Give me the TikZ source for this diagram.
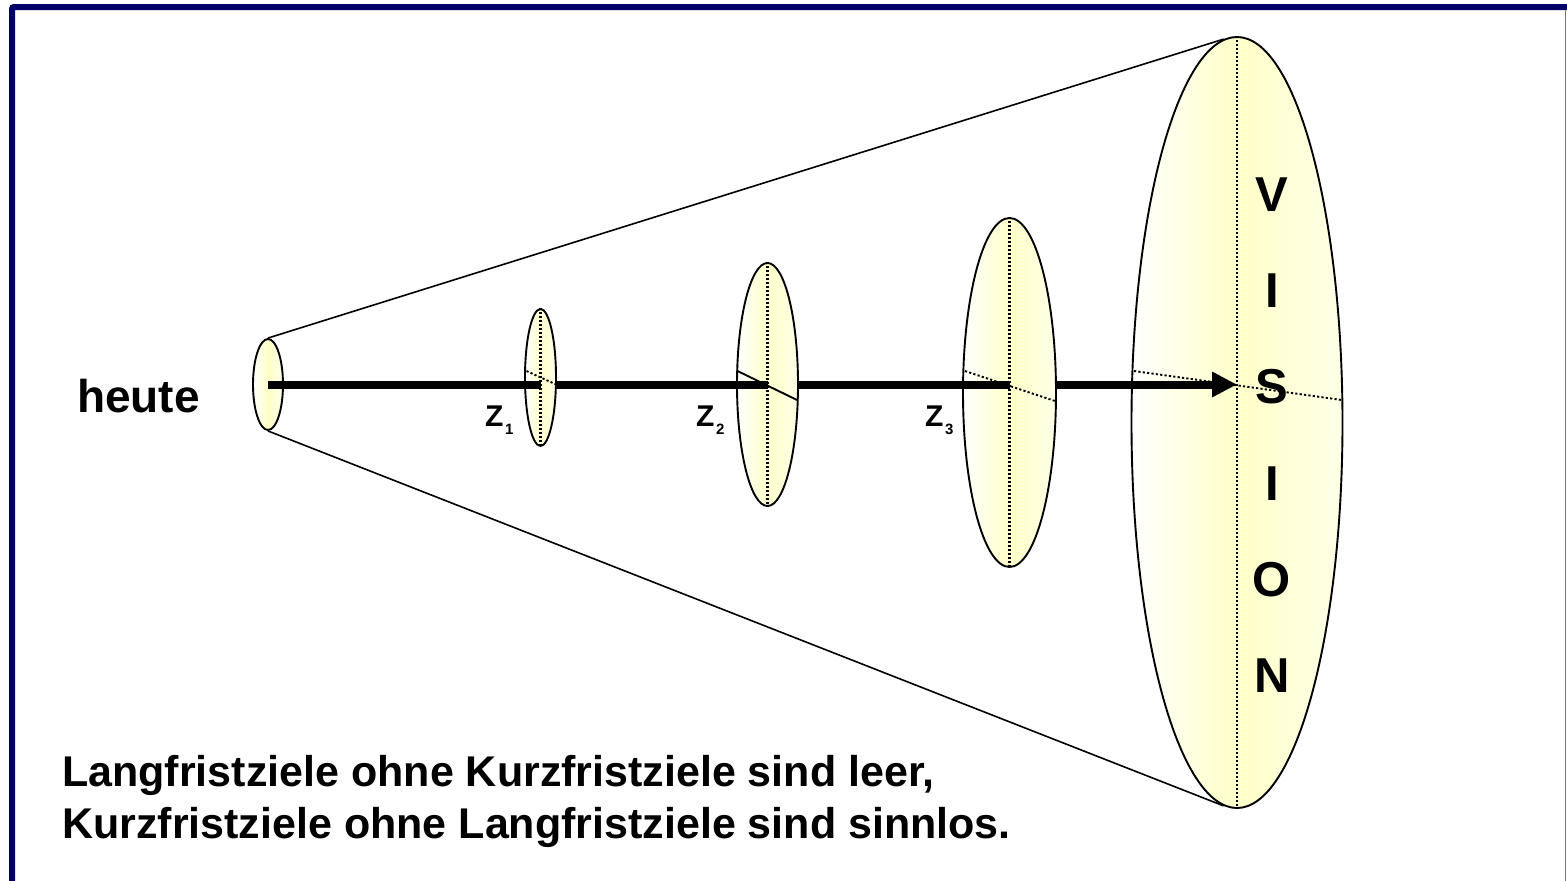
\documentclass[tikz,border=0pt]{standalone}
\usepackage{fontspec}
\setmainfont{Liberation Sans}
\usetikzlibrary{shapes.geometric,arrows.meta,calc}
\definecolor{framenavy}{RGB}{0,0,102}
\definecolor{framelav}{RGB}{110,110,175}
\definecolor{discyellow}{RGB}{255,255,200}
\definecolor{discpale}{RGB}{255,255,232}
\tikzset{
  disc/.style={ellipse, draw=black, line width=1.9pt, inner sep=0pt,
    left color=white, right color=discpale, middle color=discyellow},
  axisdot/.style={line width=2.2pt, dash pattern=on 2.2pt off 1.8pt},
  diagdot/.style={line width=1.9pt, dash pattern=on 2.2pt off 2.2pt},
  conel/.style={line width=1.6pt},
  path/.style={line width=8pt},
  bigtxt/.style={font=\fontsize{46}{55}\selectfont\bfseries, inner sep=0pt},
  visiontxt/.style={font=\fontsize{49}{58}\selectfont\bfseries, inner sep=0pt, anchor=base},
  ztxt/.style={inner sep=0pt, anchor=base west},
  bottomtxt/.style={font=\fontsize{43}{52}\selectfont\bfseries, inner sep=0pt, anchor=base west}
}
\newcommand{\zlabel}[1]{{\fontsize{30}{30}\selectfont\bfseries Z}\kern1.5pt{\fontsize{15}{15}\selectfont\bfseries\raisebox{-8pt}{#1}}}
\begin{document}
\begin{tikzpicture}[x=1pt,y=-1pt]
\useasboundingbox (0,0) rectangle (1567,881);
\fill[white] (0,0) rectangle (1567,881);
% frame
\draw[framenavy, line width=6pt, rounded corners=2pt] (12,884) -- (12,7) -- (1570,7);
\draw[framelav, line width=1.2pt] (1565.6,10) -- (1565.6,884);

% discs
\node[disc, minimum width=30pt, minimum height=91pt] (h) at (268,384.5) {};
\node[disc, minimum width=31pt, minimum height=137pt] (z1) at (540.5,377.5) {};
\node[disc, minimum width=61pt, minimum height=243pt] (z2) at (767.5,384.5) {};
\node[disc, minimum width=93pt, minimum height=349pt] (z3) at (1009.5,392.5) {};
\node[disc, minimum width=211pt, minimum height=771pt] (v) at (1237,422.5) {};

% cone
\draw[conel] (h.north) -- (v.92);
\draw[conel] (h.south) -- (v.268);

% axes through discs
\draw[axisdot] (z1.north) -- (z1.south);
\draw[axisdot] (z2.north) -- (z2.south);
\draw[axisdot] (z3.north) -- (z3.south);
\draw[axisdot] (v.north) -- (v.south);

% tilted diameters
\draw[diagdot] (526.5,371) -- (555,384);
\draw[line width=1.9pt] (737.5,371) -- (797,400);
\draw[diagdot] (965,371) -- (1055,401);
\draw[diagdot] (1134,371) -- (1342,400);

% path arrow
\coordinate (start) at (h.center);
\draw[path] (start) -- (z1.center |- start);
\draw[path] (z1.east |- start) -- (z2.center |- start);
\draw[path] (z2.east |- start) -- (z3.center |- start);
\draw[path, -{Triangle[length=25pt,width=24pt]}] (z3.east |- start) -- (v.center |- start);

% labels
\node[bigtxt, anchor=base west] (heute) at (77,412) {heute};
\node[ztxt] (l1) at (485,426) {\zlabel{1}};
\node[ztxt] (l2) at (696,426) {\zlabel{2}};
\node[ztxt] (l3) at (925,426) {\zlabel{3}};

\node[visiontxt] (cV) at (1272,211) {V};
\node[visiontxt] (cI1) at (1272,307) {I};
\node[visiontxt] (cS) at (1272,403) {S};
\node[visiontxt] (cI2) at (1272,500) {I};
\node[visiontxt] (cO) at (1272,596) {O};
\node[visiontxt] (cN) at (1272,692) {N};

\node[bottomtxt] (line1) at (62,786) {Langfristziele ohne Kurzfristziele sind leer,};
\node[bottomtxt] (line2) at (62,838) {Kurzfristziele ohne Langfristziele sind sinnlos.};
\end{tikzpicture}
\end{document}
